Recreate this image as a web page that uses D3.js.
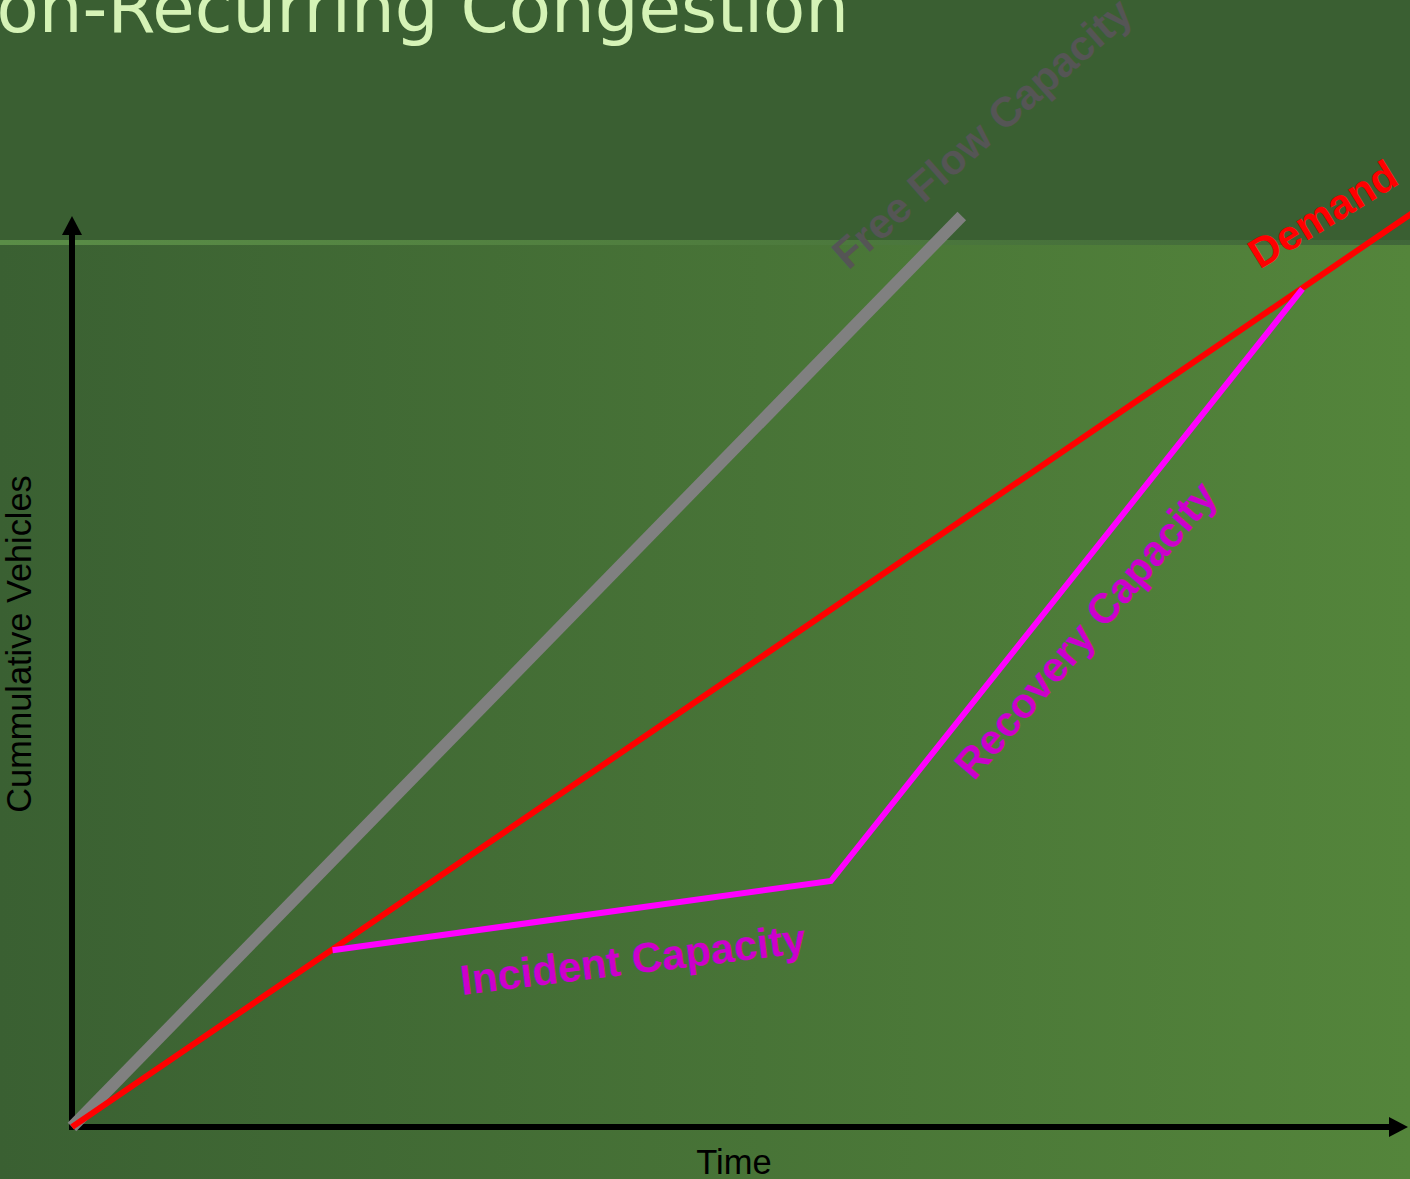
<!DOCTYPE html>
<html>
<head>
<meta charset="utf-8">
<script src="https://cdn.jsdelivr.net/npm/d3@7"></script>
<style>
html,body{margin:0;padding:0;background:#3a5f32;overflow:hidden;}
svg{display:block;}
</style>
</head>
<body>
<script>
// ---- data ----
const titleText = "Non-Recurring Congestion";
const xAxisLabel = "Time";
const yAxisLabel = "Cummulative Vehicles";
// series: time (x) and cumulative vehicles (y)
const freeFlowX = [0, 66.6];
const freeFlowY = [0, 100];
const demandX = [0, 101.5];
const demandY = [0, 101.5];
const capacityX = [19.5, 56.8, 92.1];
const capacityY = [19.4, 27.0, 92.0];
const seriesNames = ["Free Flow Capacity", "Demand", "Incident Capacity", "Recovery Capacity"];

// ---- layout ----
const W = 1410, H = 1179;
const svg = d3.select("body").append("svg").attr("width", W).attr("height", H);
const defs = svg.append("defs");

const bg = defs.append("linearGradient").attr("id", "bg").attr("x1", "0%").attr("x2", "100%");
bg.append("stop").attr("offset", "0%").attr("stop-color", "#3a6032");
bg.append("stop").attr("offset", "100%").attr("stop-color", "#54853b");
const strip = defs.append("linearGradient").attr("id", "strip").attr("x1", "0%").attr("x2", "100%");
strip.append("stop").attr("offset", "0%").attr("stop-color", "#5a8d47");
strip.append("stop").attr("offset", "50%").attr("stop-color", "#4f7d3e");
strip.append("stop").attr("offset", "100%").attr("stop-color", "#406739");

svg.append("rect").attr("width", W).attr("height", H).attr("fill", "url(#bg)");
svg.append("rect").attr("width", W).attr("height", 240).attr("fill", "#3a5f32");
svg.append("rect").attr("y", 240).attr("width", W).attr("height", 5).attr("fill", "url(#strip)");

svg.append("text").attr("x", 849).attr("y", 32)
  .attr("text-anchor", "end")
  .style("font-family", "'DejaVu Sans', Verdana, sans-serif")
  .style("font-size", "69px")
  .attr("fill", "#d5f3b6")
  .text(titleText);

const x = d3.scaleLinear().domain([0, 100]).range([72, 1408]);
const y = d3.scaleLinear().domain([0, 100]).range([1127, 216]);

// axes with arrow heads
const ax = svg.append("g");
ax.append("line").attr("x1", x(0)).attr("x2", x(100) - 14).attr("y1", y(0)).attr("y2", y(0))
  .attr("stroke", "#000").attr("stroke-width", 6);
ax.append("line").attr("x1", x(0)).attr("x2", x(0)).attr("y1", y(0) + 3).attr("y2", y(100) + 14)
  .attr("stroke", "#000").attr("stroke-width", 6);
ax.append("path")
  .attr("d", `M${x(100)},${y(0)} L${x(100) - 19},${y(0) - 10} L${x(100) - 19},${y(0) + 10} Z`)
  .attr("fill", "#000");
ax.append("path")
  .attr("d", `M${x(0)},${y(100)} L${x(0) - 10},${y(100) + 19} L${x(0) + 10},${y(100) + 19} Z`)
  .attr("fill", "#000");

svg.append("text").attr("x", 734).attr("y", 1174).attr("text-anchor", "middle")
  .style("font-family", "'Liberation Sans', Arial, sans-serif").style("font-size", "34.5px")
  .attr("fill", "#000").text(xAxisLabel);
svg.append("text").attr("transform", "translate(31,644) rotate(-90)").attr("text-anchor", "middle")
  .style("font-family", "'Liberation Sans', Arial, sans-serif").style("font-size", "34.3px")
  .attr("fill", "#000").text(yAxisLabel);

const line = d3.line().x(d => x(d[0])).y(d => y(d[1]));
const zip = (a, b) => a.map((v, i) => [v, b[i]]);

svg.append("path").datum(zip(freeFlowX, freeFlowY)).attr("d", line)
  .attr("fill", "none").attr("stroke", "#808080").attr("stroke-width", 12);
svg.append("path").datum(zip(demandX, demandY)).attr("d", line)
  .attr("fill", "none").attr("stroke", "#ff0000").attr("stroke-width", 6);
svg.append("path").datum(zip(capacityX, capacityY)).attr("d", line)
  .attr("fill", "none").attr("stroke", "#ff00ff").attr("stroke-width", 6);

// labels anchored in data space
const labels = [
  {t: seriesNames[0], dx: 58.1, dy: 94.0, a: -41.5, c: "#555555"},
  {t: seriesNames[1], dx: 88.9, dy: 94.1, a: -31.5, c: "#ff0000"},
  {t: seriesNames[2], dx: 29.2, dy: 14.5, a: -7, c: "#cc00cc"},
  {t: seriesNames[3], dx: 67.5, dy: 37.9, a: -49.3, c: "#cc00cc"}
];
svg.selectAll("text.lab").data(labels).enter().append("text").attr("class", "lab")
  .attr("transform", d => `translate(${x(d.dx)},${y(d.dy)}) rotate(${d.a})`)
  .style("font-family", "'Liberation Sans', Arial, sans-serif")
  .style("font-size", "42px").style("font-weight", "bold")
  .attr("fill", d => d.c).text(d => d.t);
</script>
</body>
</html>
